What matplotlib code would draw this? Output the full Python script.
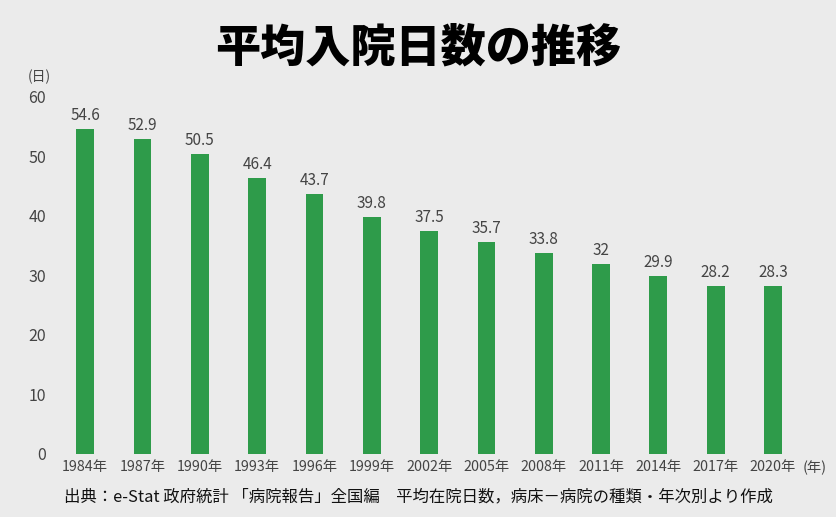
import matplotlib
matplotlib.use("Agg")
import matplotlib.pyplot as plt

plt.rcParams['font.family'] = ['Noto Sans CJK JP', 'DejaVu Sans']

years = ["1984年", "1987年", "1990年", "1993年", "1996年", "1999年", "2002年",
         "2005年", "2008年", "2011年", "2014年", "2017年", "2020年"]
values = [54.6, 52.9, 50.5, 46.4, 43.7, 39.8, 37.5, 35.7, 33.8, 32, 29.9, 28.2, 28.3]
labels = ["54.6", "52.9", "50.5", "46.4", "43.7", "39.8", "37.5", "35.7", "33.8", "32", "29.9", "28.2", "28.3"]
yticks = [0, 10, 20, 30, 40, 50, 60]

bg = "#ebebeb"
green = "#2e9b4a"
txt = "#444444"

fig = plt.figure(figsize=(8.36, 5.17), dpi=100, facecolor=bg)
ax = fig.add_axes([0.0718, 0.1219, 0.885, 0.6905], facecolor=bg)

x = list(range(len(years)))
ax.bar(x, values, width=0.31, color=green)
for xi, v, lab in zip(x, values, labels):
    ax.text(xi, v + 0.8, lab, ha='center', va='bottom', fontsize=11, color=txt)

ax.set_xlim(-0.44, 12.47)
ax.set_ylim(0, 60)
ax.set_yticks(yticks)
ax.set_yticklabels([str(t) for t in yticks], fontsize=11.5, color=txt)
ax.set_xticks(x)
ax.set_xticklabels(years, fontsize=10.3, color=txt)
ax.tick_params(axis='both', length=0)
ax.tick_params(axis='y', pad=10)
ax.tick_params(axis='x', pad=4)
for s in ax.spines.values():
    s.set_visible(False)

fig.text(0.047, 0.851, "(日)", fontsize=10, color=txt, ha='center', va='center')
fig.text(0.975, 0.095, "(年)", fontsize=10.3, color=txt, ha='center', va='center')

fig.text(0.5, 0.908, "平均入院日数の推移", fontsize=32.5, fontweight='heavy',
         color='black', ha='center', va='center')
fig.text(0.5, 0.038, "出典：e-Stat 政府統計 「病院報告」全国編　平均在院日数，病床－病院の種類・年次別より作成",
         fontsize=11.8, color='#111111', ha='center', va='center')

fig.savefig("out.png", dpi=100, facecolor=bg)
